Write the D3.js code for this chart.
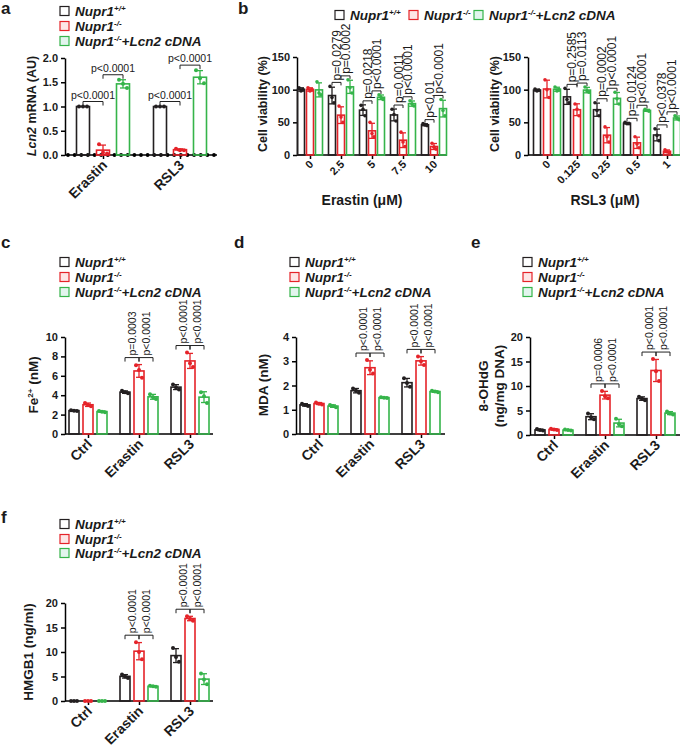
<!DOCTYPE html>
<html>
<head>
<meta charset="utf-8">
<script src="https://cdn.jsdelivr.net/npm/d3@7"></script>
<style>
  body { margin: 0; background: #fff; }
  svg { display: block; }
  text { font-family: "Liberation Sans", Arial, sans-serif; fill: #1a1a1a; }
</style>
</head>
<body>
<svg id="fig" width="680" height="753"></svg>
<script>
// groups shared by every panel
const groups = ["wt", "ko", "res"];
const groupColors = ["#231f20", "#e52329", "#35b44a"];
const legendFills = ["#ffffff", "#fde6e6", "#e2f5ee"];

// a - Lcn2 mRNA
const aCategories = ["Erastin", "RSL3"];
const aWt = [[1.0, 1.0, 1.0], [1.0, 1.0, 1.0]];
const aKo = [[0.22, 0.05, 0.03], [0.13, 0.10, 0.10]];
const aRes = [[1.55, 1.47, 1.38], [1.75, 1.58, 1.48]];
const aBaselineDots = [0, 0, 0, 0, 0, 0, 0, 0, 0, 0, 0, 0, 0, 0, 0, 0, 0, 0, 0, 0, 0, 0, 0];
const aPWtKo = ["p<0.0001", "p<0.0001"];
const aPKoRes = ["p<0.0001", "p<0.0001"];
const aTicks = [0, 0.5, 1, 1.5, 2];

// b - cell viability
const bErastinDoses = ["0", "2.5", "5", "7.5", "10"];
const bErastinWt = [[103, 98, 100], [105, 88, 80], [76, 70, 60], [70, 62, 52], [48, 46, 45]];
const bErastinKo = [[103, 98, 100], [75, 58, 50], [50, 33, 28], [35, 20, 13], [18, 12, 9]];
const bErastinRes = [[112, 95, 92], [115, 103, 95], [92, 88, 85], [83, 78, 75], [85, 68, 60]];
const bErastinPWtKo = [null, "p=0.0279", "p=0.0218", "p=0.0011", "p<0.01"];
const bErastinPKoRes = [null, "p=0.0002", "p<0.0001", "p<0.0001", "p<0.0001"];
const bRslDoses = ["0", "0.125", "0.25", "0.5", "1"];
const bRslWt = [[101, 98, 99], [102, 85, 80], [80, 68, 60], [50, 48, 48], [40, 30, 22]];
const bRslKo = [[115, 100, 88], [78, 70, 60], [43, 28, 20], [28, 17, 11], [8, 5, 4]];
const bRslRes = [[104, 98, 100], [104, 98, 96], [96, 86, 78], [70, 68, 67], [60, 56, 54]];
const bRslPWtKo = [null, "p=0.2585", "p=0.0002", "p=0.0124", "p<0.0378"];
const bRslPKoRes = [null, "p=0.0113", "p<0.0001", "p<0.0001", "p<0.0001"];
const bTicks = [0, 50, 100, 150];

// c-f share treatments
const treatments = ["Ctrl", "Erastin", "RSL3"];

const cWt = [[2.45, 2.4, 2.38], [4.45, 4.3, 4.2], [5.1, 4.8, 4.6]];
const cKo = [[3.2, 3.0, 2.85], [7.1, 6.6, 5.8], [8.4, 7.3, 6.9]];
const cRes = [[2.38, 2.3, 2.25], [4.1, 3.8, 3.6], [4.3, 3.9, 3.2]];
const cPWtKo = [null, "p=0.0003", "p<0.0001"];
const cPKoRes = [null, "p<0.0001", "p<0.0001"];
const cTicks = [0, 2, 4, 6, 8, 10];

const dWt = [[1.25, 1.2, 1.15], [1.88, 1.78, 1.7], [2.3, 2.1, 1.95]];
const dKo = [[1.3, 1.25, 1.22], [3.05, 2.65, 2.5], [3.2, 3.0, 2.85]];
const dRes = [[1.2, 1.15, 1.1], [1.52, 1.5, 1.48], [1.78, 1.75, 1.72]];
const dPWtKo = [null, "p<0.0001", "p<0.0001"];
const dPKoRes = [null, "p<0.0001", "p<0.0001"];
const dTicks = [0, 1, 2, 3, 4];

const eWt = [[1.2, 1.0, 0.9], [4.4, 3.6, 3.2], [7.8, 7.4, 7.1]];
const eKo = [[1.3, 1.1, 1.0], [9.0, 7.9, 7.5], [15.5, 13.0, 11.0]];
const eRes = [[1.1, 1.0, 0.9], [3.3, 2.2, 1.8], [4.8, 4.4, 4.2]];
const ePWtKo = [null, "p=0.0006", "p<0.0001"];
const ePKoRes = [null, "p<0.0001", "p<0.0001"];
const eTicks = [0, 5, 10, 15, 20];

const fWt = [[0, 0, 0], [5.4, 5.0, 4.7], [10.8, 9.0, 8.0]];
const fKo = [[0, 0, 0], [12.0, 10.0, 8.5], [17.3, 16.8, 16.4]];
const fRes = [[0, 0, 0], [3.1, 3.0, 2.9], [5.6, 4.4, 3.4]];
const fPWtKo = [null, "p<0.0001", "p<0.0001"];
const fPKoRes = [null, "p<0.0001", "p<0.0001"];
const fTicks = [0, 5, 10, 15, 20];

// legend text pieces: [text, isSuperscript]
const legendLabels = [
  [["Nupr1", 0], ["+/+", 1]],
  [["Nupr1", 0], ["-/-", 1]],
  [["Nupr1", 0], ["-/-", 1], ["+Lcn2 cDNA", 0]]
];

const svg = d3.select("#fig");

function addPieces(text, pieces, supSize) {
  pieces.forEach(([t, sup], i) => {
    const prevSup = i > 0 && pieces[i - 1][1];
    const ts = text.append("tspan").text(t);
    if (sup) ts.attr("font-size", supSize).attr("dy", -5);
    else if (prevSup) ts.attr("dy", 5);
  });
}

function panelLabel(x, y, s) {
  svg.append("text").attr("x", x).attr("y", y).attr("font-size", 17)
    .attr("font-weight", "bold").text(s);
}

function legendItem(x, y, i) {
  const g = svg.append("g").attr("transform", `translate(${x},${y})`);
  g.append("rect").attr("x", 0).attr("y", -4.5).attr("width", 9).attr("height", 9)
    .attr("fill", legendFills[i]).attr("stroke", groupColors[i]).attr("stroke-width", 1.2);
  const t = g.append("text").attr("x", 15).attr("y", 5)
    .attr("font-size", 13.5).attr("font-weight", "bold").attr("font-style", "italic");
  addPieces(t, legendLabels[i], 8);
}

function legend(x, ys) {
  ys.forEach((y, i) => legendItem(x, y, i));
}

function yLabel(cx, cy, pieces, size, italicFirst) {
  const t = svg.append("text")
    .attr("transform", `translate(${cx + size * 0.35},${cy}) rotate(-90)`)
    .attr("text-anchor", "middle").attr("font-size", size).attr("font-weight", "bold");
  pieces.forEach(([s, sup], i) => {
    const prevSup = i > 0 && pieces[i - 1][1];
    const ts = t.append("tspan").text(s);
    if (sup) ts.attr("font-size", size * 0.6).attr("dy", -5);
    else if (prevSup) ts.attr("dy", 5);
    if (italicFirst && i === 0) ts.attr("font-style", "italic");
  });
}

function drawPanel(p) {
  const g = svg.append("g");
  const y = d3.scaleLinear().domain([0, d3.max(p.ticks)]).range([p.y0, p.y1]);
  const x = d3.scalePoint().domain(p.cats).range([p.c0, p.c1]);
  const off = d3.scalePoint().domain(groups).range([-p.off, p.off]);
  const jit = d3.scalePoint().domain([0, 1, 2]).range([-p.jit, p.jit]);

  const rows = [];
  p.cats.forEach((c, i) => groups.forEach((k, j) => {
    const v = p.series[j][i];
    const m = d3.mean(v), sd = d3.deviation(v) || 0;
    rows.push({ c, i, k, j, v, m, sd, cx: x(c) + off(k), top: Math.max(m + sd, d3.max(v)) });
  }));

  // axes
  const ya = g.append("g").attr("transform", `translate(${p.x0},0)`)
    .call(d3.axisLeft(y).tickValues(p.ticks).tickFormat(p.fmt).tickSize(4).tickSizeOuter(0));
  ya.select(".domain").attr("stroke-width", 1.5);
  ya.selectAll(".tick line").attr("stroke-width", 1.5);
  ya.selectAll(".tick text").attr("font-size", 11).attr("font-weight", "bold")
    .attr("font-family", "Liberation Sans, Arial, sans-serif").attr("fill", "#1a1a1a");

  g.append("line").attr("x1", p.x0).attr("x2", p.x1).attr("y1", p.y0).attr("y2", p.y0)
    .attr("stroke", "#000").attr("stroke-width", 1.5);
  const xa = g.append("g").attr("transform", `translate(0,${p.y0})`)
    .call(d3.axisBottom(x).tickSize(4).tickFormat(""));
  xa.select(".domain").remove();
  xa.selectAll(".tick line").attr("stroke-width", 1.5);

  p.cats.forEach(c => {
    g.append("text")
      .attr("transform", `translate(${x(c) + p.labDx},${p.y0 + p.labDy}) rotate(-45)`)
      .attr("text-anchor", "end").attr("font-size", p.catFont).attr("font-weight", "bold")
      .text(c);
  });

  // baseline dots (zero readings)
  if (p.baseline) {
    const bx = d3.scalePoint().domain(d3.range(p.baseline.length)).range([p.x0 + 3, p.x1 - 3]);
    g.selectAll(".bdot").data(p.baseline).join("circle")
      .attr("cx", (d, i) => bx(i)).attr("cy", d => y(d)).attr("r", 1.9).attr("fill", "#000");
  }

  // bars
  g.selectAll(".bar").data(rows).join("rect")
    .attr("x", d => d.cx - p.barW / 2).attr("y", d => y(d.m))
    .attr("width", p.barW).attr("height", d => p.y0 - y(d.m))
    .attr("fill", "none").attr("stroke", d => groupColors[d.j]).attr("stroke-width", 1.6);

  // error bars
  const eb = g.selectAll(".eb").data(rows.filter(d => d.sd > 0)).join("g")
    .attr("stroke", d => groupColors[d.j]).attr("stroke-width", 1.3);
  eb.append("line").attr("x1", d => d.cx).attr("x2", d => d.cx)
    .attr("y1", d => y(d.m - d.sd)).attr("y2", d => y(d.m + d.sd));
  eb.append("line").attr("x1", d => d.cx - 3).attr("x2", d => d.cx + 3)
    .attr("y1", d => y(d.m + d.sd)).attr("y2", d => y(d.m + d.sd));
  eb.append("line").attr("x1", d => d.cx - 3).attr("x2", d => d.cx + 3)
    .attr("y1", d => y(d.m - d.sd)).attr("y2", d => y(d.m - d.sd));

  // points
  rows.forEach(r => {
    g.selectAll(null).data(r.v).join("circle")
      .attr("cx", (d, i) => r.cx + jit(i)).attr("cy", d => y(d))
      .attr("r", p.dotR).attr("fill", groupColors[r.j]);
  });

  // p-values
  const pairs = [[0, 1, p.pA], [1, 2, p.pB]];
  p.cats.forEach((c, i) => {
    const cr = rows.filter(r => r.i === i);
    pairs.forEach(([j1, j2, labs]) => {
      const lab = labs[i];
      if (!lab) return;
      const involved = p.shared ? cr : cr.filter(r => r.j === j1 || r.j === j2);
      const by = y(d3.max(involved, r => r.top)) - p.pPad;
      const xA = cr[j1].cx, xB = cr[j2].cx;
      g.append("path")
        .attr("d", `M${xA},${by + p.leg}V${by}H${xB}V${by + p.leg}`)
        .attr("fill", "none").attr("stroke", "#222").attr("stroke-width", 1);
      const mid = (xA + xB) / 2;
      if (p.flat) {
        g.append("text").attr("x", mid).attr("y", by - 3).attr("text-anchor", "middle")
          .attr("font-size", p.pFont).text(lab);
      } else {
        g.append("text")
          .attr("transform", `translate(${mid + p.pFont * 0.36},${by - 2}) rotate(-90)`)
          .attr("font-size", p.pFont).text(lab);
      }
    });
  });
}

const fmt1 = d3.format(".1f"), fmt0 = d3.format("d");

// ---- a
panelLabel(1, 14, "a");
legend(60, [11, 26, 41]);
drawPanel({ cats: aCategories, series: [aWt, aKo, aRes], ticks: aTicks, fmt: fmt1,
  x0: 65, x1: 217, c0: 103, c1: 180, y0: 155, y1: 58, off: 20, barW: 13, jit: 4, dotR: 2,
  catFont: 14, labDx: 5, labDy: 11, baseline: aBaselineDots,
  pA: aPWtKo, pB: aPKoRes, shared: false, pPad: 5, leg: 4, flat: true, pFont: 10.5 });
yLabel(32, 106, [["Lcn2", 0], [" mRNA (AU)", 0]], 12.5, true);

// ---- b
panelLabel(238, 14, "b");
[335, 409, 474].forEach((x, i) => legendItem(x, 15, i));
drawPanel({ cats: bErastinDoses, series: [bErastinWt, bErastinKo, bErastinRes], ticks: bTicks, fmt: fmt0,
  x0: 297, x1: 447, c0: 310, c1: 434, y0: 155, y1: 57, off: 9, barW: 7, jit: 2, dotR: 1.8,
  catFont: 11, labDx: 4, labDy: 10,
  pA: bErastinPWtKo, pB: bErastinPKoRes, shared: false, pPad: 4, leg: 3, flat: false, pFont: 12 });
drawPanel({ cats: bRslDoses, series: [bRslWt, bRslKo, bRslRes], ticks: bTicks, fmt: fmt0,
  x0: 528, x1: 680, c0: 547, c1: 667, y0: 155, y1: 57, off: 10, barW: 7, jit: 2, dotR: 1.8,
  catFont: 11, labDx: 4, labDy: 10,
  pA: bRslPWtKo, pB: bRslPKoRes, shared: false, pPad: 4, leg: 3, flat: false, pFont: 12 });
yLabel(263, 104, [["Cell viability (%)", 0]], 12.5);
yLabel(495, 104, [["Cell viability (%)", 0]], 12.5);
svg.append("text").attr("x", 362).attr("y", 205).attr("text-anchor", "middle")
  .attr("font-size", 14).attr("font-weight", "bold").text("Erastin (μM)");
svg.append("text").attr("x", 605).attr("y", 205).attr("text-anchor", "middle")
  .attr("font-size", 14).attr("font-weight", "bold").text("RSL3 (μM)");

// ---- c
const rowPanel = { shared: true, pPad: 7, leg: 4, flat: false, pFont: 10.5, off: 14, barW: 10,
  jit: 3, dotR: 2, catFont: 14, labDx: 5, labDy: 11, fmt: fmt0 };
panelLabel(1, 248, "c");
legend(60, [262, 277, 292]);
drawPanel(Object.assign({}, rowPanel, { cats: treatments, series: [cWt, cKo, cRes], ticks: cTicks,
  x0: 65, x1: 213, c0: 88, c1: 190, y0: 434, y1: 337, pA: cPWtKo, pB: cPKoRes }));
yLabel(33, 385, [["Fe", 0], ["2+", 1], [" (nM)", 0]], 13.5);

// ---- d
panelLabel(234, 248, "d");
legend(290, [262, 277, 292]);
drawPanel(Object.assign({}, rowPanel, { cats: treatments, series: [dWt, dKo, dRes], ticks: dTicks,
  x0: 296, x1: 445, c0: 319, c1: 421, y0: 434, y1: 337, pA: dPWtKo, pB: dPKoRes }));
yLabel(263, 385, [["MDA (nM)", 0]], 13.5);

// ---- e
panelLabel(471, 248, "e");
legend(523, [262, 277, 292]);
drawPanel(Object.assign({}, rowPanel, { cats: treatments, series: [eWt, eKo, eRes], ticks: eTicks,
  x0: 530, x1: 680, c0: 554, c1: 656, y0: 435, y1: 337, pA: ePWtKo, pB: ePKoRes }));
yLabel(483, 386, [["8-OHdG", 0]], 13.5);
yLabel(499, 386, [["(ng/mg DNA)", 0]], 13.5);

// ---- f
panelLabel(1, 523, "f");
legend(60, [524, 539, 553]);
drawPanel(Object.assign({}, rowPanel, { cats: treatments, series: [fWt, fKo, fRes], ticks: fTicks,
  x0: 65, x1: 213, c0: 88, c1: 190, y0: 701, y1: 603, pA: fPWtKo, pB: fPKoRes }));
yLabel(28, 652, [["HMGB1 (ng/ml)", 0]], 13.5);
</script>
</body>
</html>
